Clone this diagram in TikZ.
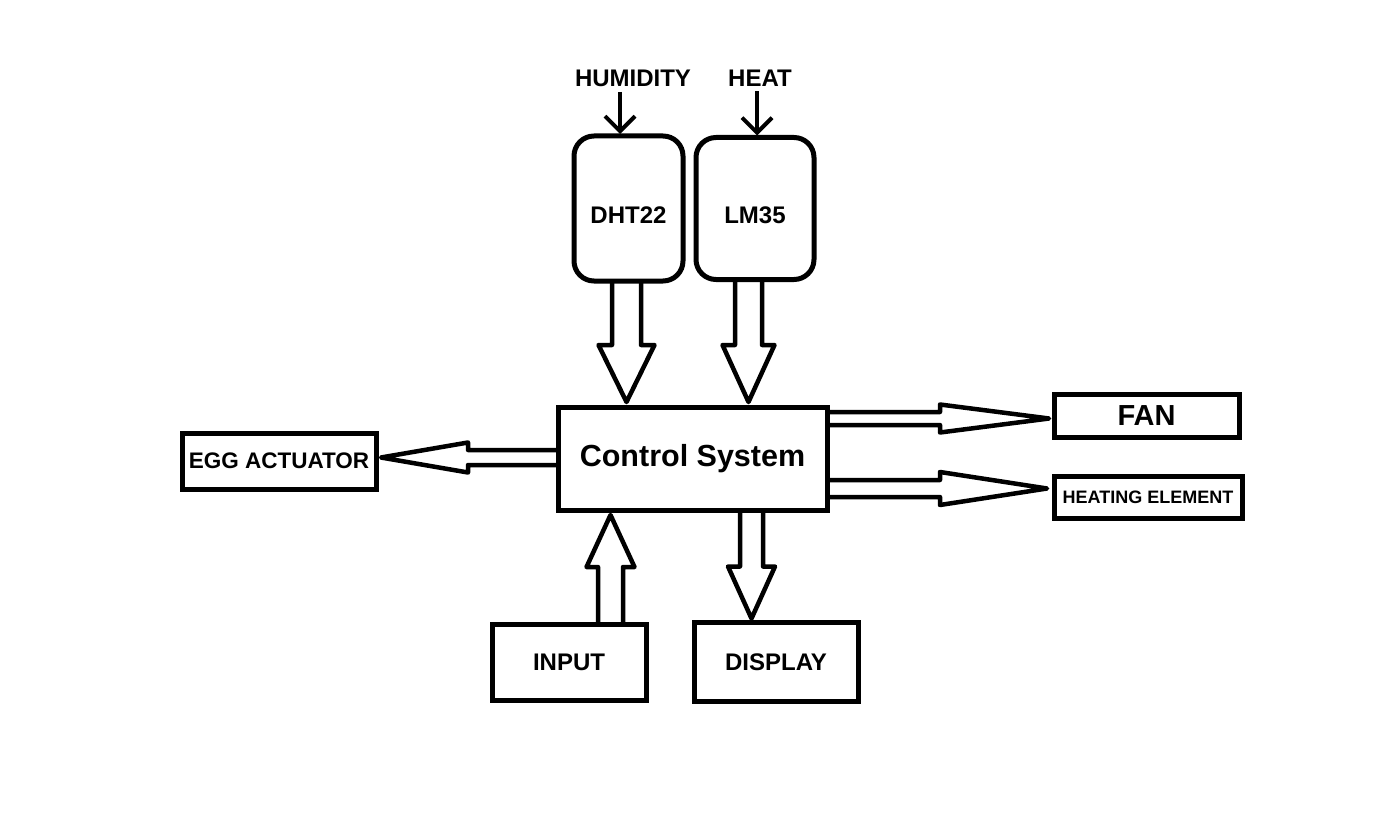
\documentclass[tikz,border=0pt]{standalone}
\usepackage{fontspec}
\setmainfont{Liberation Sans}
\usetikzlibrary{calc,arrows.meta,positioning}

% hollow block arrow: start, tip, shaft half width, head half width, head length
\newcommand{\fatarrow}[5]{%
  \coordinate (fa) at ($(#2)!#5!(#1)$);
  \draw[fat] ($(#1)!#3!90:(#2)$) -- ($(fa)!#3!-90:(#1)$) -- ($(fa)!#4!-90:(#1)$)
    -- (#2) -- ($(fa)!#4!90:(#1)$) -- ($(fa)!#3!90:(#1)$) -- ($(#1)!#3!-90:(#2)$);
}

\tikzset{
  txt/.style={font=\bfseries\fontsize{24}{28}\selectfont},
  box/.style={txt, draw, line width=5pt, inner sep=0pt, outer sep=0pt},
  sensor/.style={box, rounded corners=20pt, text height=31pt},
  lbl/.style={txt, inner sep=0pt, outer sep=0pt},
  fat/.style={line width=4.5pt, line join=round},
  feed/.style={-{Straight Barb[length=15pt,width=30pt]}, line width=4pt}
}

\begin{document}
\begin{tikzpicture}[x=1pt, y=-1pt, node distance=40pt]
    \useasboundingbox (0,0) rectangle (1384,821);

    \node[box, minimum width=269pt, minimum height=103pt,
          font=\bfseries\fontsize{30.5}{35}\selectfont] (ctrl) at (692.5,458.5) {Control System};
    \node[sensor, minimum width=109pt, minimum height=145pt] (dht) [above=126pt of ctrl, xshift=-64pt] {DHT22};
    \node[sensor, minimum width=118pt, minimum height=142pt] (lm) [right=13pt of dht] {LM35};
    \node[lbl] (hum) [above=49pt of dht, xshift=4.5pt] {HUMIDITY};
    \node[lbl] (heat) [above=51pt of lm, xshift=5pt] {HEAT};
    \node[box, minimum width=185pt, minimum height=43pt,
          font=\bfseries\fontsize{29}{33}\selectfont] (fan) [right=227pt of ctrl, yshift=43pt] {FAN};
    \node[box, minimum width=188pt, minimum height=42pt,
          font=\bfseries\fontsize{18}{21}\selectfont] (helem) [below=39pt of fan, xshift=1.5pt] {HEATING ELEMENT};
    \node[box, minimum width=194pt, minimum height=56pt,
          font=\bfseries\fontsize{22.5}{27}\selectfont] (egg) [left=182pt of ctrl, yshift=-2.5pt] {EGG ACTUATOR};
    \node[box, minimum width=154pt, minimum height=76pt] (inp) [below=114pt of ctrl, xshift=-123.5pt] {INPUT};
    \node[box, minimum width=164pt, minimum height=79pt] (disp) [right=48pt of inp] {DISPLAY};

    % sensed quantities
    \coordinate (h1) at ([xshift=-13pt]hum.south);
    \coordinate (h2) at ([xshift=-3pt]heat.south);
    \draw[feed, shorten <=5pt, shorten >=2pt] (h1) -- (h1 |- dht.north);
    \draw[feed, shorten <=5pt, shorten >=2pt] (h2) -- (h2 |- lm.north);

    % sensors to control
    \coordinate (a1) at ([xshift=-2pt]dht.south);
    \coordinate (a1t) at ($(a1 |- ctrl.north)+(0,-5)$);
    \fatarrow{a1}{a1t}{14.5pt}{28pt}{57pt}
    \coordinate (a2) at ([xshift=-6.5pt]lm.south);
    \coordinate (a2t) at ($(a2 |- ctrl.north)+(0,-5)$);
    \fatarrow{a2}{a2t}{13.5pt}{26pt}{57pt}

    % outputs
    \coordinate (a3) at ($(ctrl.east)+(0,-40)$);
    \coordinate (a3t) at ($(a3 -| fan.west)+(-5,0)$);
    \fatarrow{a3}{a3t}{6.5pt}{14pt}{109pt}
    \coordinate (a4) at ($(ctrl.east)+(0,30)$);
    \coordinate (a4t) at ($(a4 -| helem.west)+(-7,0)$);
    \fatarrow{a4}{a4t}{8.5pt}{16.5pt}{107pt}
    \coordinate (a5) at ($(ctrl.west)+(0,-1)$);
    \coordinate (a5t) at ($(a5 -| egg.east)+(5,0)$);
    \fatarrow{a5}{a5t}{7.5pt}{15pt}{87pt}
    \coordinate (a7) at ($(ctrl.south)+(59,0)$);
    \coordinate (a7t) at ($(a7 |- disp.north)+(0,-4)$);
    \fatarrow{a7}{a7t}{11.5pt}{23.5pt}{52pt}

    % input to control
    \coordinate (a6) at ([xshift=41.5pt]inp.north);
    \coordinate (a6t) at ($(a6 |- ctrl.south)+(0,5)$);
    \fatarrow{a6}{a6t}{12.5pt}{24pt}{52pt}
\end{tikzpicture}
\end{document}
